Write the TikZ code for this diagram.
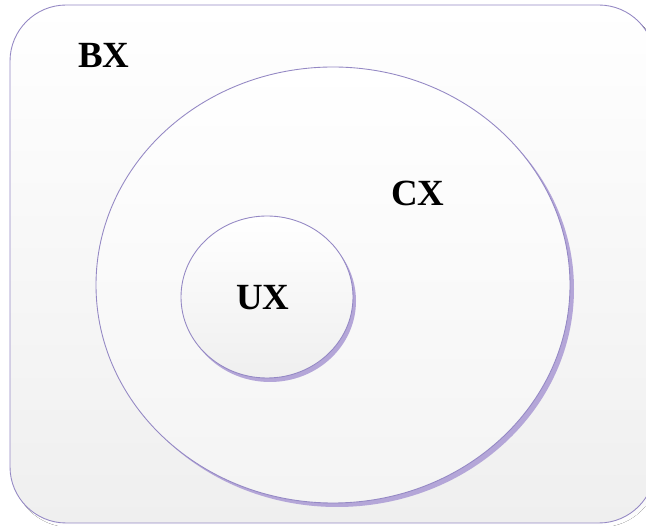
\documentclass[tikz,border=0pt]{standalone}
\usepackage{fontspec}
\setmainfont{Liberation Serif}
\usepackage{xcolor}
\usepackage{tikz}
\usetikzlibrary{patterns}

\definecolor{rim}{HTML}{9488C4}
\definecolor{shade}{HTML}{B4A6D8}
\definecolor{paper}{HTML}{EFEFEF}

\tikzset{
  setbox/.style={draw=rim,line width=0.5pt},
  setshadow/.style={fill=shade,draw=none},
  setlabel/.style={font=\fontsize{21}{24}\selectfont\bfseries}
}

\begin{document}
\begin{tikzpicture}[x=0.02cm,y=-0.02cm]
  \useasboundingbox (0,0) rectangle (646,526);
  \begin{scope}
    \clip (0,0) rectangle (646,526);
    % outer box
    \fill[shade,rounded corners=32] (13,8) rectangle (658,527);
    \shade[setbox,top color=white,bottom color=paper,rounded corners=32] (10,5) rectangle (655,523);
  \end{scope}
  % big set
  \fill[setshadow] (337,289) ellipse [x radius=237,y radius=218];
  \shade[setbox,top color=white,bottom color=paper!70] (333,285) ellipse [x radius=237,y radius=218];
  % small set
  \fill[setshadow] (270,301) ellipse [x radius=86,y radius=81];
  \shade[setbox,top color=white,bottom color=paper] (267,297) ellipse [x radius=86,y radius=81];
  \node[setlabel] (bx) at (104,55) {BX};
  \node[setlabel] (cx) at (418,193) {CX};
  \node[setlabel] (ux) at (263,298) {UX};
\end{tikzpicture}
\end{document}
